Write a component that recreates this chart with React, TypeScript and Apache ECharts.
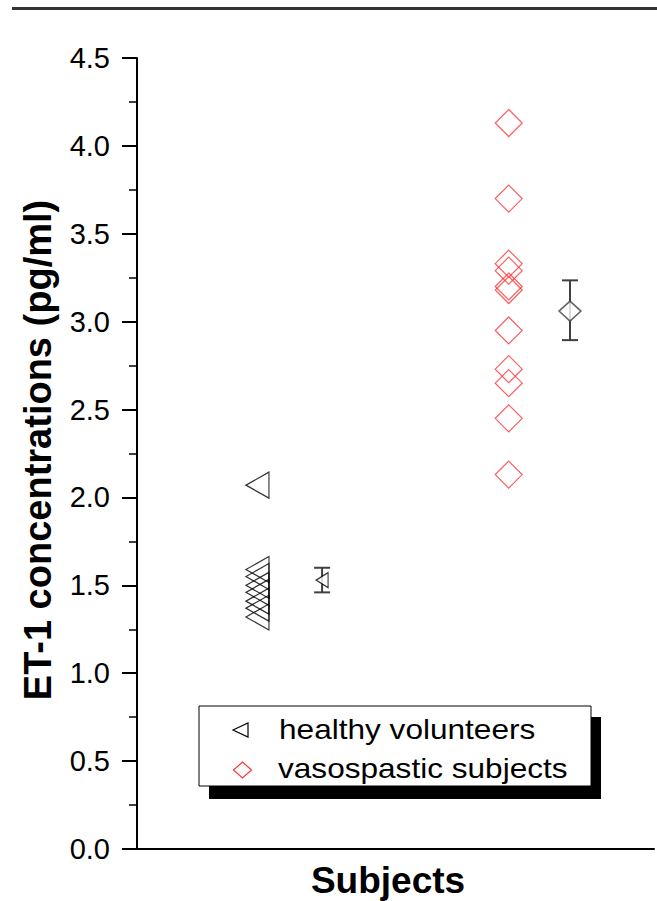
import React, { useEffect, useRef } from "react";
import * as echarts from "echarts";

// ---- data ----
const groupNames = ["healthy volunteers", "vasospastic subjects"];
const healthyValues = [2.07, 1.59, 1.55, 1.5, 1.46, 1.41, 1.37, 1.32];
const vasospasticValues = [4.13, 3.7, 3.33, 3.29, 3.2, 3.18, 2.95, 2.73, 2.65, 2.45, 2.13];
const meanValues = [1.53, 3.06];
const errorLow = [1.46, 2.895];
const errorHigh = [1.6, 3.235];
const yTickLabels = ["0.0", "0.5", "1.0", "1.5", "2.0", "2.5", "3.0", "3.5", "4.0", "4.5"];
const yAxisTitle = "ET-1 concentrations (pg/ml)";
const xAxisTitle = "Subjects";

// ---- layout constants (positions on a hidden 0-100 x axis) ----
const X_INDIVIDUAL = [23.3, 71.9];
const X_MEAN = [35.8, 83.75];
const Y_MIN = 0;
const Y_MAX = 4.5;
const Y_STEP = 0.5;

const FONT = "'Liberation Sans', Arial, Helvetica, sans-serif";
const TRI_PATH = "path://M0,5L10,0L10,10Z";
const RED = "#ff3535";
const GRAY = "#404040";

export default function App() {
  const ref = useRef<HTMLDivElement>(null);

  useEffect(() => {
    if (!ref.current) return;
    const chart = echarts.init(ref.current, null, { renderer: "svg" });

    const option: any = {
      animation: false,
      backgroundColor: "#fff",
      grid: { left: 137, right: 3, top: 58, bottom: 52, containLabel: false },
      xAxis: {
        type: "value",
        min: 0,
        max: 100,
        axisLine: { show: true, onZero: false, lineStyle: { color: "#000", width: 2 } },
        axisTick: { show: false },
        axisLabel: { show: false },
        splitLine: { show: false },
      },
      yAxis: {
        type: "value",
        min: Y_MIN,
        max: Y_MAX,
        interval: Y_STEP,
        axisLine: { show: true, lineStyle: { color: "#000", width: 2 } },
        axisTick: { show: true, inside: false, length: 15, lineStyle: { color: "#000", width: 2 } },
        minorTick: { show: true, splitNumber: 2, length: 8, lineStyle: { color: "#000", width: 1.5 } },
        splitLine: { show: false },
        axisLabel: {
          margin: 27,
          color: "#000",
          fontSize: 29,
          fontFamily: FONT,
          formatter: (v: number) => yTickLabels[Math.round((v - Y_MIN) / Y_STEP)] ?? "",
        },
      },
      series: [
        {
          name: groupNames[0],
          type: "scatter",
          symbol: TRI_PATH,
          symbolSize: [23, 26],
          z: 3,
          itemStyle: { color: "rgba(0,0,0,0)", borderColor: "#000", borderWidth: 1.2 },
          data: healthyValues.map((v) => [X_INDIVIDUAL[0], v]),
        },
        {
          name: groupNames[1],
          type: "scatter",
          symbol: "diamond",
          symbolSize: [27, 27],
          z: 3,
          itemStyle: { color: "rgba(0,0,0,0)", borderColor: RED, borderWidth: 1.2 },
          data: vasospasticValues.map((v) => [X_INDIVIDUAL[1], v]),
        },
        {
          type: "custom",
          z: 4,
          encode: { x: 0, y: [1, 2] },
          data: meanValues.map((_, i) => [X_MEAN[i], errorLow[i], errorHigh[i]]),
          renderItem: (_params: any, api: any) => {
            const x = api.value(0);
            const lo = api.value(1);
            const hi = api.value(2);
            const p1 = api.coord([x, hi]);
            const p2 = api.coord([x, lo]);
            const cap = 8;
            const style = { stroke: GRAY, lineWidth: 2 };
            return {
              type: "group",
              children: [
                { type: "line", shape: { x1: p1[0], y1: p1[1], x2: p2[0], y2: p2[1] }, style },
                { type: "line", shape: { x1: p1[0] - cap, y1: p1[1], x2: p1[0] + cap, y2: p1[1] }, style },
                { type: "line", shape: { x1: p2[0] - cap, y1: p2[1], x2: p2[0] + cap, y2: p2[1] }, style },
              ],
            };
          },
        },
        {
          type: "scatter",
          symbol: TRI_PATH,
          symbolSize: [12, 15],
          z: 5,
          itemStyle: { color: "#fff", borderColor: "#000", borderWidth: 1.2 },
          data: [[X_MEAN[0], meanValues[0]]],
        },
        {
          type: "scatter",
          symbol: "diamond",
          symbolSize: [22, 20],
          z: 5,
          itemStyle: { color: "#fff", borderColor: GRAY, borderWidth: 1.5 },
          data: [[X_MEAN[1], meanValues[1]]],
        },
      ],
      graphic: [
        { type: "rect", left: 12, top: 7, shape: { width: 645, height: 3 }, style: { fill: "#333" }, silent: true },
        // legend
        { type: "rect", x: 209, y: 717, shape: { width: 392, height: 82 }, style: { fill: "#000" }, z: 10 },
        { type: "rect", x: 199, y: 706, shape: { width: 392, height: 80 }, style: { fill: "#fff", stroke: "#000", lineWidth: 1 }, z: 11 },
        {
          type: "polygon",
          shape: { points: [[233, 730], [248, 723], [248, 737]] },
          style: { fill: "none", stroke: "#000", lineWidth: 1.2 },
          z: 12,
        },
        {
          type: "polygon",
          shape: { points: [[242.5, 762], [251.5, 770], [242.5, 778], [233.5, 770]] },
          style: { fill: "none", stroke: RED, lineWidth: 1.2 },
          z: 12,
        },
        {
          type: "text",
          x: 279,
          y: 729,
          scaleX: 1.17,
          style: { text: groupNames[0], fontSize: 27, fontFamily: FONT, fill: "#000", align: "left", verticalAlign: "middle" },
          z: 12,
        },
        {
          type: "text",
          x: 278,
          y: 768,
          scaleX: 1.17,
          style: { text: groupNames[1], fontSize: 27, fontFamily: FONT, fill: "#000", align: "left", verticalAlign: "middle" },
          z: 12,
        },
        // axis titles
        {
          type: "text",
          x: 38,
          y: 450,
          rotation: Math.PI / 2,
          style: { text: yAxisTitle, fontSize: 38, fontWeight: "bold", fontFamily: FONT, fill: "#000", align: "center", verticalAlign: "middle" },
        },
        {
          type: "text",
          x: 388,
          y: 880,
          style: { text: xAxisTitle, fontSize: 37, fontWeight: "bold", fontFamily: FONT, fill: "#000", align: "center", verticalAlign: "middle" },
        },
      ],
    };

    chart.setOption(option);
    return () => chart.dispose();
  }, []);

  return <div ref={ref} style={{ position: "fixed", left: 0, top: 0, width: 657, height: 901 }} />;
}
